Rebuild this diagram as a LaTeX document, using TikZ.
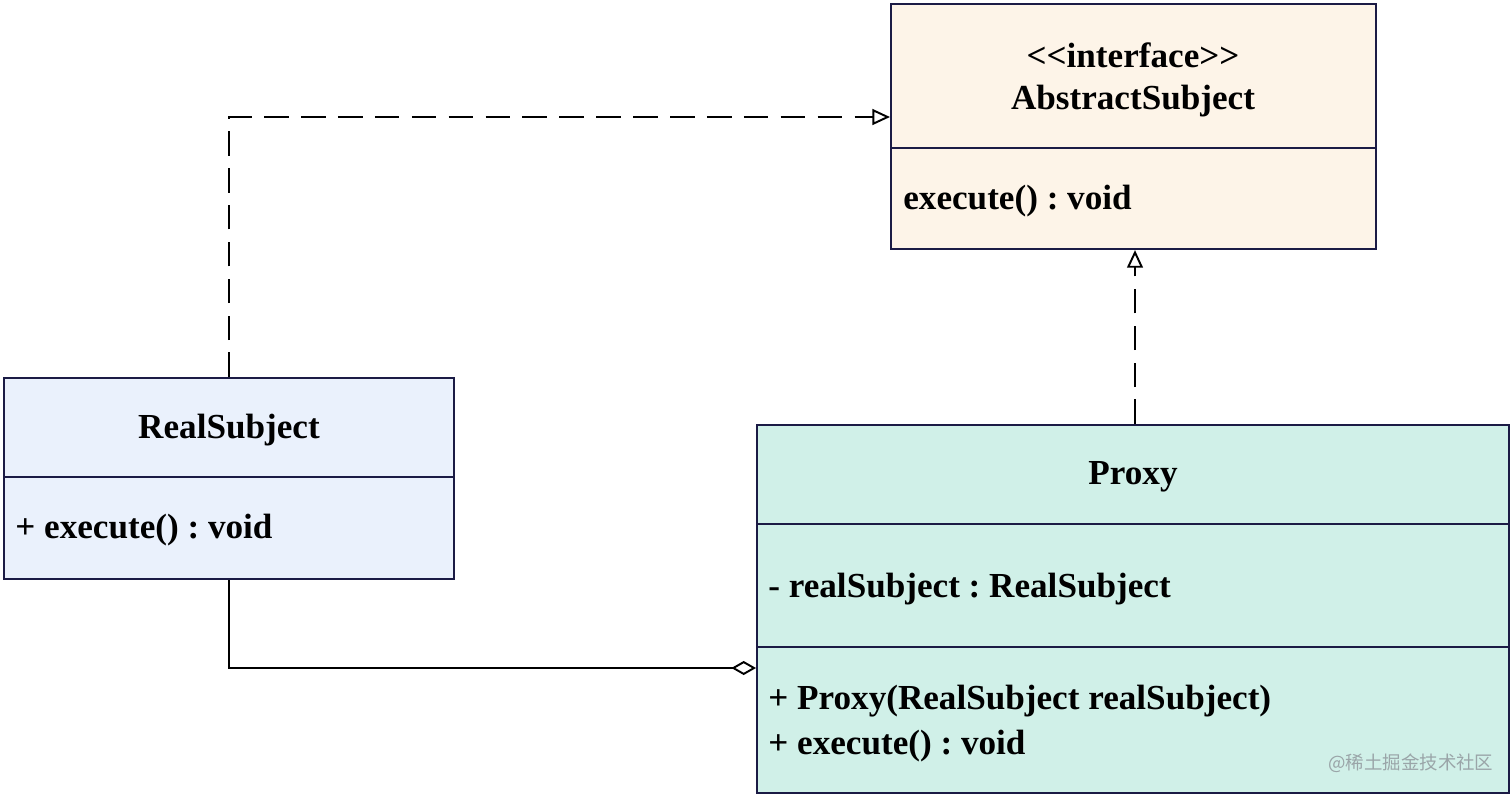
\documentclass[tikz,border=0pt]{standalone}
\usepackage{fontspec}
\setmainfont{Liberation Serif}
\newfontfamily\cjk{Noto Sans CJK SC}
\usetikzlibrary{arrows.meta}
\frenchspacing
\definecolor{navy}{HTML}{1B1B45}
\definecolor{cream}{HTML}{FDF4E8}
\definecolor{paleblue}{HTML}{EAF1FC}
\definecolor{mint}{HTML}{D0F0E8}
\definecolor{wmgray}{HTML}{9AA5A8}
\tikzset{
  umlbox/.style={draw=navy, line width=1.2pt, rectangle, inner sep=0pt},
  divider/.style={draw=navy, line width=1.2pt},
  lbl/.style={font=\fontsize{20}{24}\bfseries\selectfont, inner sep=0pt},
  lbll/.style={lbl, anchor=west},
  realize/.style={draw=black, line width=1.1pt, dash pattern=on 14pt off 7pt, -{Triangle[open, length=10pt, width=9pt, line width=1.1pt]}},
  aggr/.style={draw=black, line width=1.1pt, {Diamond[open, length=14pt, width=8pt, line width=1.1pt]}-},
}
\begin{document}
\begin{tikzpicture}[x=0.02cm, y=-0.02cm]
\useasboundingbox (0,0) rectangle (1512,796);
% AbstractSubject
\node[umlbox, fill=cream, minimum width=485*0.02cm, minimum height=245*0.02cm, anchor=north west] (abs) at (890,3) {};
\draw[divider] (890,148) -- (1375,148);
\node[lbl] (absst) at (1133,55) {<{}<interface>{}>};
\node[lbl] (absname) at (1133,101) {AbstractSubject};
\node[lbll] (absop) at (903,201) {execute() : void};
% RealSubject
\node[umlbox, fill=paleblue, minimum width=450*0.02cm, minimum height=201*0.02cm, anchor=north west] (real) at (3,377) {};
\draw[divider] (3,477) -- (453,477);
\node[lbl] (realname) at (229,430) {RealSubject};
\node[lbll] (realop) at (15,530) {+ execute() : void};
% Proxy
\node[umlbox, fill=mint, minimum width=752*0.02cm, minimum height=368*0.02cm, anchor=north west] (proxy) at (756,424) {};
\draw[divider] (756,524) -- (1508,524);
\draw[divider] (756,647) -- (1508,647);
\node[lbl] (proxyname) at (1133,477) {Proxy};
\node[lbll] (proxyattr) at (768,589) {- realSubject : RealSubject};
\node[lbll] (proxyop1) at (768,701) {+ Proxy(RealSubject realSubject)};
\node[lbll] (proxyop2) at (768,746) {+ execute() : void};
\node[anchor=west, inner sep=0pt, text=wmgray, font=\cjk\fontsize{10.5}{12}\selectfont] (wm) at (1328,763) {@稀土掘金技术社区};
% connectors
\coordinate (bend1) at (229,117);
\draw[realize] (real.north -| bend1) -- (bend1) -- (abs.west |- bend1);
\draw[realize] (proxy.north -| 1135,0) -- (abs.south -| 1135,0);
\coordinate (bend2) at (229,668);
\draw[aggr] (proxy.west |- bend2) -- (bend2) -- (real.south -| bend2);
\end{tikzpicture}
\end{document}
